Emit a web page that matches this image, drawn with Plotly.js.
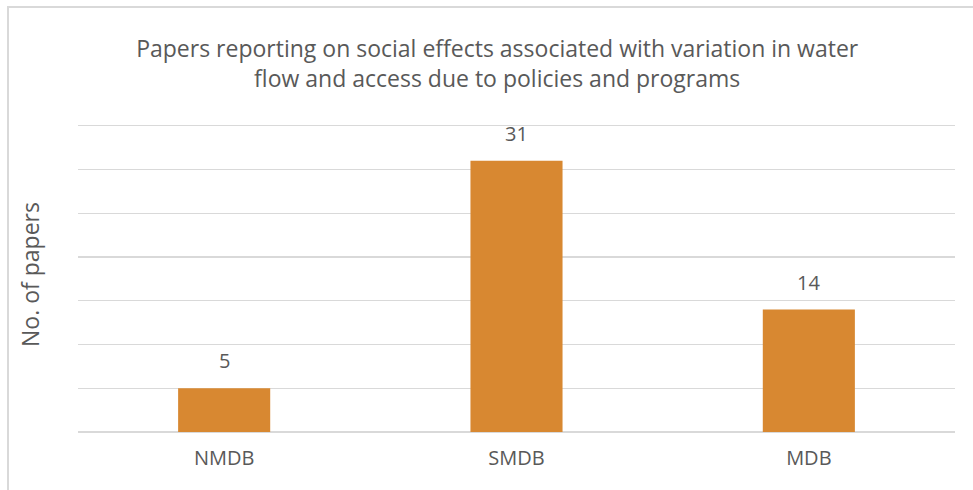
<!DOCTYPE html>
<html>
<head>
<meta charset="utf-8">
<script src="https://cdn.plot.ly/plotly-3.0.1.min.js"></script>
<style>
  html, body { margin: 0; padding: 0; background: #ffffff; }
  #wrap { position: relative; width: 973px; height: 490px; overflow: hidden; }
  #chart { width: 973px; height: 490px; }
  #frame {
    position: absolute; left: 7px; top: 6px; width: 1100px; height: 600px;
    border-left: 2px solid #d9d9d9; border-top: 2px solid #d9d9d9;
    pointer-events: none;
  }
</style>
</head>
<body>
<div id="wrap">
  <div id="chart"></div>
  <div id="frame"></div>
</div>
<script>
// Basin categories and paper counts
const basins = ["NMDB", "SMDB", "MDB"];
const paperCounts = [5, 31, 14];

const textColor = "#595959";
const barColor = "#D88831";
const gridColor = "#d9d9d9";
const fontFamily = "Open Sans, sans-serif";

const trace = {
  type: "bar",
  x: basins,
  y: paperCounts,
  marker: { color: barColor },
  hoverinfo: "x+y"
};

// Value labels placed above each bar
const labels = basins.map((b, i) => ({
  x: b,
  y: paperCounts[i],
  xref: "x",
  yref: "y",
  text: String(paperCounts[i]),
  showarrow: false,
  yanchor: "bottom",
  yshift: 12,
  font: { family: fontFamily, size: 20, color: textColor }
}));

const layout = {
  width: 973,
  height: 490,
  paper_bgcolor: "#ffffff",
  plot_bgcolor: "#ffffff",
  margin: { l: 78, r: 18, t: 117, b: 58 },
  bargap: 0.685,
  showlegend: false,
  font: { family: fontFamily, color: textColor },
  title: {
    text: "Papers reporting on social effects associated with variation in water<br>flow and access due to policies and programs",
    x: 0.511,
    xref: "container",
    xanchor: "center",
    y: 0.884,
    yref: "container",
    yanchor: "top",
    font: { family: fontFamily, size: 23, color: textColor }
  },
  xaxis: {
    showgrid: false,
    showline: false,
    ticks: "",
    tickfont: { family: fontFamily, size: 20, color: textColor },
    ticklabelstandoff: 12
  },
  yaxis: {
    range: [0, 36],
    tickvals: [0, 5, 10, 15, 20, 25, 30, 35],
    showgrid: true,
    gridcolor: gridColor,
    gridwidth: 1.3,
    zeroline: true,
    zerolinecolor: gridColor,
    zerolinewidth: 1.3,
    showticklabels: false,
    ticks: "",
    title: {
      text: "No. of papers",
      standoff: 30,
      font: { family: fontFamily, size: 23, color: textColor }
    }
  },
  annotations: labels
};

Plotly.newPlot("chart", [trace], layout, { displayModeBar: false, staticPlot: true });
</script>
</body>
</html>
